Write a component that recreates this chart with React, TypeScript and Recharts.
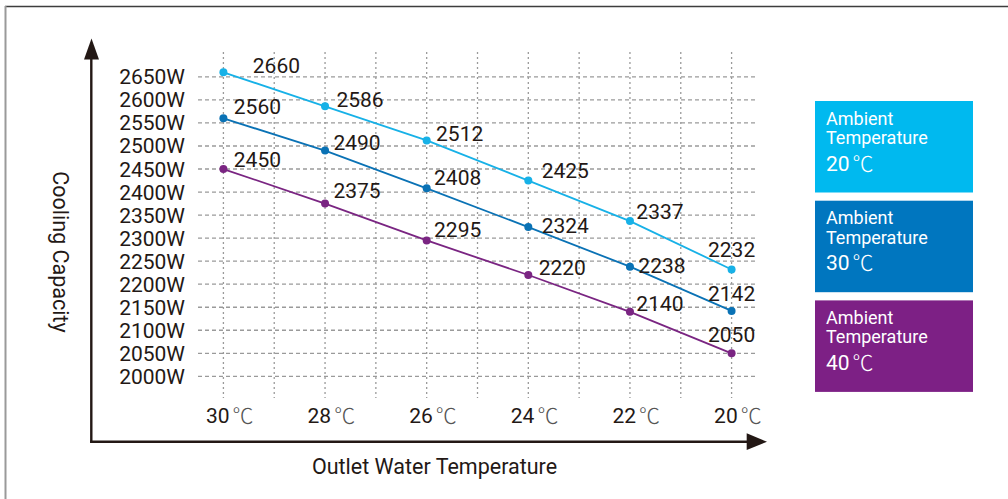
import { CartesianGrid, Line, LineChart, XAxis, YAxis } from "recharts";

// outlet water temperature (℃) and cooling capacity (W) per ambient temperature
const outletTemps = [30, 28, 26, 24, 22, 20];
const capacity20 = [2660, 2586, 2512, 2425, 2337, 2232];
const capacity30 = [2560, 2490, 2408, 2324, 2238, 2142];
const capacity40 = [2450, 2375, 2295, 2220, 2140, 2050];

const yTicks = [2000, 2050, 2100, 2150, 2200, 2250, 2300, 2350, 2400, 2450, 2500, 2550, 2600, 2650];
const xGridTicks = [30, 29, 28, 27, 26, 25, 24, 23, 22, 21, 20];

const FONT = "Roboto, 'Noto Sans CJK SC', sans-serif";
const INK = "#231815";
const W = 1008;
const H = 499;

const data = outletTemps.map((t, i) => ({
  t,
  a20: capacity20[i],
  a30: capacity30[i],
  a40: capacity40[i],
}));

// label placement relative to each dot [dx, dy], matches the hand-placed labels
const series = [
  {
    key: "a20",
    ambient: "20",
    values: capacity20,
    line: "#17b1e7",
    box: "#00b9ef",
    offsets: [[53, -7], [35, -7], [33, -7], [37, -10], [30, -10], [0, -20]],
  },
  {
    key: "a30",
    ambient: "30",
    values: capacity30,
    line: "#0a72b5",
    box: "#0076bf",
    offsets: [[34, -12], [32, -8], [31, -11], [37, -2], [32, -1], [0, -17]],
  },
  {
    key: "a40",
    ambient: "40",
    values: capacity40,
    line: "#7a2582",
    box: "#7d2085",
    offsets: [[34, -10], [32, -13], [31, -11], [34, -7], [30, -8], [0, -19]],
  },
];

function makeLabel(s: (typeof series)[number]) {
  return (props: any) => {
    const { x, y, value } = props;
    const idx = props.index ?? s.values.indexOf(value);
    const [dx, dy] = s.offsets[idx] || [30, -8];
    return (
      <text
        x={x + dx}
        y={y + dy + 7.5}
        textAnchor="middle"
        fontSize={21}
        fontFamily={FONT}
        fill={INK}
      >
        {value}
      </text>
    );
  };
}

function XTick(props: any) {
  const { x, y, payload } = props;
  if (payload.value % 2 !== 0) return null;
  return (
    <text x={x - 17.5} y={y + 25} fontSize={21} fontFamily={FONT} fill={INK}>
      {payload.value}
      <tspan dx={3} fontWeight={300} fill="#555">
        ℃
      </tspan>
    </text>
  );
}

function YTick(props: any) {
  const { x, y, payload } = props;
  return (
    <text x={x} y={y + 7.5} textAnchor="end" fontSize={21} fontFamily={FONT} fill={INK}>
      {payload.value}W
    </text>
  );
}

export default function App() {
  return (
    <div style={{ position: "absolute", left: 0, top: 0, width: W, height: H, background: "#fff" }}>
      <LineChart
        width={W}
        height={H}
        data={data}
        margin={{ top: 52, right: 251, bottom: 71, left: 92 }}
      >
        <CartesianGrid
          vertical={false}
          syncWithTicks
          stroke="#9a9a9a"
          strokeWidth={1.3}
          strokeDasharray="4 3"
        />
        <CartesianGrid
          horizontal={false}
          syncWithTicks
          stroke="#9a9a9a"
          strokeWidth={1.3}
          strokeDasharray="2 3"
        />
        <XAxis
          dataKey="t"
          type="number"
          domain={[19.5, 30.5]}
          reversed
          ticks={xGridTicks}
          interval={0}
          axisLine={false}
          tickLine={false}
          tickSize={0}
          tickMargin={0}
          height={30}
          tick={XTick}
          allowDataOverflow
        />
        <YAxis
          type="number"
          domain={[1953, 2704]}
          ticks={yTicks}
          interval={0}
          axisLine={false}
          tickLine={false}
          tickSize={0}
          tickMargin={13}
          width={106}
          tick={YTick}
          allowDataOverflow
        />
        {series.map((s) => (
          <Line
            key={s.key}
            dataKey={s.key}
            type="linear"
            stroke={s.line}
            strokeWidth={1.8}
            dot={{ r: 4, fill: s.line, stroke: "none" }}
            activeDot={false}
            label={makeLabel(s)}
            isAnimationActive={false}
          />
        ))}
      </LineChart>

      <svg
        width={W}
        height={H}
        style={{ position: "absolute", left: 0, top: 0, pointerEvents: "none" }}
        fontFamily={FONT}
      >
        {/* frame */}
        <line x1={5} y1={6.5} x2={W} y2={6.5} stroke="#3d3d3d" strokeWidth={1.5} />
        <line x1={5.5} y1={6} x2={5.5} y2={H} stroke="#9a9a9a" strokeWidth={2} />

        {/* axes with arrows */}
        <line x1={91.3} y1={442.8} x2={91.3} y2={58} stroke={INK} strokeWidth={2.4} />
        <polygon points="91.5,38.5 84,59.5 99,59.5" fill={INK} />
        <line x1={90.1} y1={441.7} x2={748} y2={441.7} stroke={INK} strokeWidth={2.4} />
        <polygon points="767,441.7 746.7,433.3 746.7,450" fill={INK} />

        <text x={434.5} y={474} textAnchor="middle" fontSize={21.5} fill={INK}>
          Outlet Water Temperature
        </text>
        <text
          x={60}
          y={252}
          textAnchor="middle"
          fontSize={21.5}
          fill={INK}
          transform="rotate(90 60 252)"
          dy={7.5}
        >
          Cooling Capacity
        </text>

        {/* legend */}
        {series.map((s, i) => {
          const top = 101 + i * 99.7;
          return (
            <g key={s.key}>
              <rect x={815} y={top} width={158} height={91.5} fill={s.box} />
              <text x={826} y={top + 23.5} fontSize={18} fill="#fff">
                Ambient
              </text>
              <text x={826} y={top + 43} fontSize={18} fill="#fff">
                Temperature
              </text>
              <text x={826} y={top + 69.5} fontSize={21} fill="#fff">
                {s.ambient}
                <tspan dx={3} fontWeight={300}>
                  ℃
                </tspan>
              </text>
            </g>
          );
        })}
      </svg>
    </div>
  );
}
